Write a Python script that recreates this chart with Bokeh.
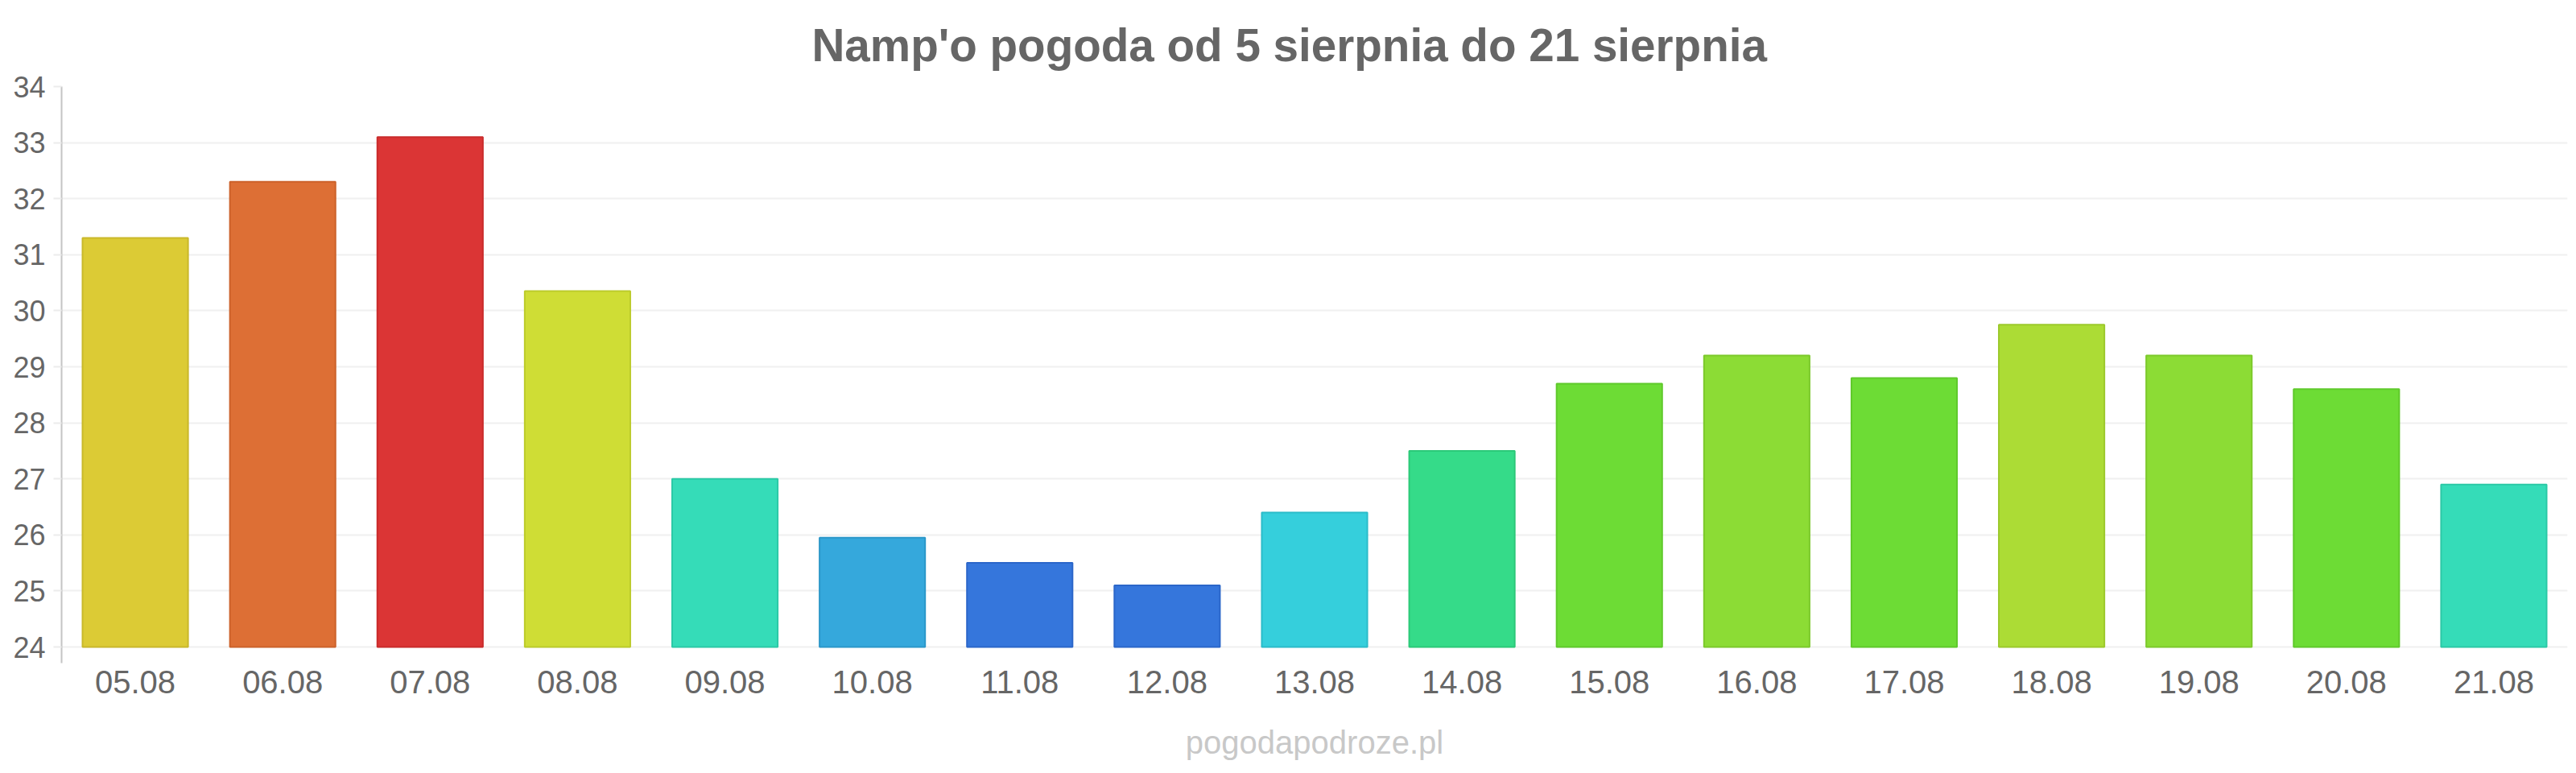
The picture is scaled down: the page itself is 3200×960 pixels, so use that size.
from bokeh.plotting import figure
from bokeh.models import ColumnDataSource, FactorRange, Range1d, FixedTicker, Title
from bokeh.embed import file_html
from bokeh.resources import INLINE

days = ["05.08", "06.08", "07.08", "08.08", "09.08", "10.08", "11.08", "12.08", "13.08",
        "14.08", "15.08", "16.08", "17.08", "18.08", "19.08", "20.08", "21.08"]
temps = [31.3, 32.3, 33.1, 30.35, 27.0, 25.95, 25.5, 25.1, 26.4,
         27.5, 28.7, 29.2, 28.8, 29.75, 29.2, 28.6, 26.9]
fills = ["#dccb35", "#dd6f35", "#db3535", "#cfdd35", "#35dcb8", "#35a8dc", "#3576dc", "#3576dc", "#35cfdc",
         "#35db89", "#6ddc35", "#8cdc35", "#6ddc35", "#acdc35", "#8cdc35", "#6ddc35", "#35dcb8"]
borders = ["#c9b82a", "#cc622b", "#c92b2b", "#bccb2a", "#2bc9a6", "#2b97c9", "#2b66c9", "#2b66c9", "#2bbcc9",
           "#2bc978", "#5fc92b", "#7cc92b", "#5fc92b", "#9cc92b", "#7cc92b", "#5fc92b", "#2bc9a6"]
y_ticks = [24, 25, 26, 27, 28, 29, 30, 31, 32, 33, 34]
base = 24

src = ColumnDataSource(dict(day=days, temp=temps, fill=fills, border=borders))

p = figure(width=3200, height=960, output_backend="svg", toolbar_location=None,
           x_range=FactorRange(factors=days, range_padding=0),
           y_range=Range1d(23.713, 34),
           min_border_left=76, min_border_right=11, min_border_top=107, min_border_bottom=137)
p.title = Title(text="Namp'o pogoda od 5 sierpnia do 21 sierpnia", align="left",
                text_font="Liberation Sans", text_font_size="56.6px", text_font_style="bold",
                text_color="#666666", standoff=40, offset=932)
p.add_layout(Title(text="pogodapodroze.pl", align="center", text_font="Liberation Sans",
                   text_font_size="40px", text_font_style="normal", text_color="#c8c8c8",
                   standoff=30), "below")

p.vbar(x="day", top="temp", bottom=base, width=0.716, source=src,
       fill_color="fill", line_color="border", line_width=2)

p.outline_line_color = None
p.background_fill_color = "white"

p.xgrid.grid_line_color = None
p.ygrid.grid_line_color = "#f0f0f0"
p.ygrid.grid_line_width = 2
p.yaxis.ticker = FixedTicker(ticks=y_ticks)
p.yaxis.axis_line_color = "#c4c4c4"
p.yaxis.axis_line_width = 2
p.yaxis.major_tick_in = 0
p.yaxis.major_tick_out = 10
p.yaxis.major_tick_line_color = "#ececec"
p.yaxis.major_tick_line_width = 2
p.yaxis.minor_tick_line_color = None
p.yaxis.major_label_standoff = 10
p.yaxis.major_label_text_font = "Liberation Sans"
p.yaxis.major_label_text_font_size = "36px"
p.yaxis.major_label_text_color = "#666666"

p.xaxis.axis_line_color = None
p.xaxis.major_tick_line_color = None
p.xaxis.minor_tick_line_color = None
p.xaxis.major_label_standoff = 3
p.xaxis.major_label_text_font = "Liberation Sans"
p.xaxis.major_label_text_font_size = "40px"
p.xaxis.major_label_text_color = "#666666"
# blank spacer label so the watermark sits lower without moving the tick labels
p.xaxis.axis_label = " "
p.xaxis.axis_label_standoff = 0
p.xaxis.axis_label_text_font_size = "14px"

open("out.html", "w").write(file_html(p, INLINE))
